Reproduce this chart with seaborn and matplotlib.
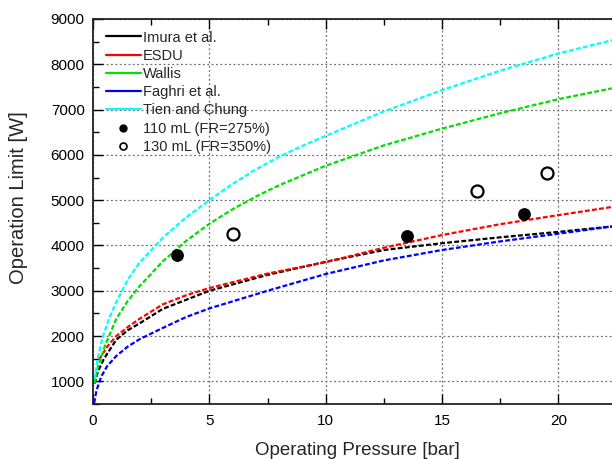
import matplotlib
matplotlib.use("Agg")
import matplotlib.pyplot as plt
import seaborn as sns
import pandas as pd
from matplotlib.lines import Line2D
from matplotlib.ticker import MultipleLocator

# ---- data ----
p_imura = [0.07, 0.2, 0.45, 1.0, 1.5, 2.0, 3.0, 4.0, 5.0, 7.5, 10.0, 12.5, 15.0, 17.5, 20.0, 22.3]
w_imura = [950, 1200, 1480, 1920, 2130, 2280, 2600, 2800, 3000, 3350, 3640, 3900, 4050, 4180, 4300, 4420]

p_esdu = [0.25, 0.6, 1.0, 1.5, 2.0, 3.0, 4.0, 5.0, 7.5, 10.0, 12.5, 15.0, 17.5, 20.0, 22.3]
w_esdu = [1470, 1760, 2000, 2200, 2380, 2700, 2900, 3060, 3380, 3630, 3950, 4230, 4470, 4670, 4850]

p_wallis = [0.07, 0.2, 0.5, 1.0, 1.5, 2.0, 3.0, 4.0, 5.0, 6.0, 7.0, 8.0, 10.0, 12.5, 15.0, 17.5, 20.0, 22.3]
w_wallis = [950, 1300, 1770, 2380, 2780, 3100, 3650, 4100, 4480, 4800, 5080, 5330, 5760, 6210, 6580, 6920, 7230, 7470]

p_faghri = [0.05, 0.15, 0.36, 0.6, 1.0, 1.5, 2.0, 3.0, 4.0, 5.0, 7.5, 10.0, 12.5, 15.0, 17.5, 20.0, 22.3]
w_faghri = [520, 800, 1110, 1330, 1560, 1770, 1930, 2180, 2420, 2610, 3000, 3370, 3670, 3900, 4090, 4260, 4420]

p_tien = [0.07, 0.2, 0.4, 0.7, 1.0, 1.5, 2.0, 3.0, 4.0, 5.0, 6.0, 7.0, 8.0, 9.0, 10.0, 12.5, 15.0, 17.5, 20.0, 22.3]
w_tien = [1050, 1500, 1950, 2400, 2750, 3250, 3620, 4170, 4620, 5000, 5360, 5680, 5960, 6200, 6420, 6960, 7430, 7860, 8240, 8530]

p_110 = [3.6, 13.5, 18.5]
w_110 = [3800, 4200, 4700]
p_130 = [6.0, 16.5, 19.5]
w_130 = [4250, 5200, 5600]

labels = ["Imura et al.", "ESDU", "Wallis", "Faghri et al.", "Tien and Chung"]
colors = ["#000000", "#ff0000", "#00e000", "#0000ff", "#00ffff"]
series = [(p_imura, w_imura), (p_esdu, w_esdu), (p_wallis, w_wallis),
          (p_faghri, w_faghri), (p_tien, w_tien)]
pt_labels = ["110 mL (FR=275%)", "130 mL (FR=350%)"]

# ---- style ----
sns.set_style("ticks")
plt.rcParams["font.family"] = ["Liberation Sans", "DejaVu Sans"]

fig = plt.figure(figsize=(6.12, 4.59), dpi=100)
ax = fig.add_axes([93 / 612, 55 / 459, 1 - 93 / 612, (404 - 19) / 459])

dash = (0, (2.2, 1.0))
for (px, wy), lab, col in zip(series, labels, colors):
    df = pd.DataFrame({"P": px, "W": wy})
    sns.lineplot(data=df, x="P", y="W", ax=ax, color=col, linewidth=1.6,
                 linestyle=dash, sort=False, estimator=None, legend=False)

df110 = pd.DataFrame({"P": p_110, "W": w_110})
df130 = pd.DataFrame({"P": p_130, "W": w_130})
sns.scatterplot(data=df110, x="P", y="W", ax=ax, color="black", s=85,
                edgecolor="black", linewidth=0, zorder=5, legend=False)
sns.scatterplot(data=df130, x="P", y="W", ax=ax, facecolor="white", s=75,
                edgecolor="black", linewidth=1.6, zorder=5, legend=False)

ax.set_xlim(0, 22.3)
ax.set_ylim(500, 9000)
ax.xaxis.set_major_locator(MultipleLocator(5))
ax.xaxis.set_minor_locator(MultipleLocator(2.5))
ax.yaxis.set_major_locator(MultipleLocator(1000))
ax.yaxis.set_minor_locator(MultipleLocator(500))
ax.set_yticks(range(1000, 9001, 1000))

ax.grid(True, which="major", color="#707070", linestyle=(0, (1.5, 2.0)), linewidth=0.9)
ax.tick_params(which="both", direction="in", top=True, right=False,
               colors="black", labelsize=11, width=1.0)
ax.tick_params(which="major", length=7)
ax.tick_params(axis="x", which="major", pad=7)
ax.tick_params(axis="y", which="major", pad=6)
ax.tick_params(which="minor", length=4)
for s in ["left", "bottom", "top"]:
    ax.spines[s].set_color("#222222")
    ax.spines[s].set_linewidth(1.3)
ax.spines["right"].set_visible(False)

ax.set_xlabel("Operating Pressure [bar]", fontsize=13.5)
ax.set_ylabel("Operation Limit [W]", fontsize=14.5)
ax.xaxis.set_label_coords(0.51, -0.098)
ax.yaxis.set_label_coords(-0.125, 0.535)

handles = [Line2D([0], [0], color=c, linewidth=1.6) for c in colors]
handles.append(Line2D([0], [0], linestyle="none", marker="o", markersize=5,
                      markerfacecolor="black", markeredgecolor="black"))
handles.append(Line2D([0], [0], linestyle="none", marker="o", markersize=5,
                      markerfacecolor="white", markeredgecolor="black", markeredgewidth=1.2))
ax.legend(handles, labels + pt_labels, loc="upper left", bbox_to_anchor=(0.025, 0.97),
          frameon=False, fontsize=10.5, borderpad=0, borderaxespad=0,
          handlelength=2.4, handletextpad=0.15, labelspacing=0.29)

fig.savefig("out.png", dpi=100)
